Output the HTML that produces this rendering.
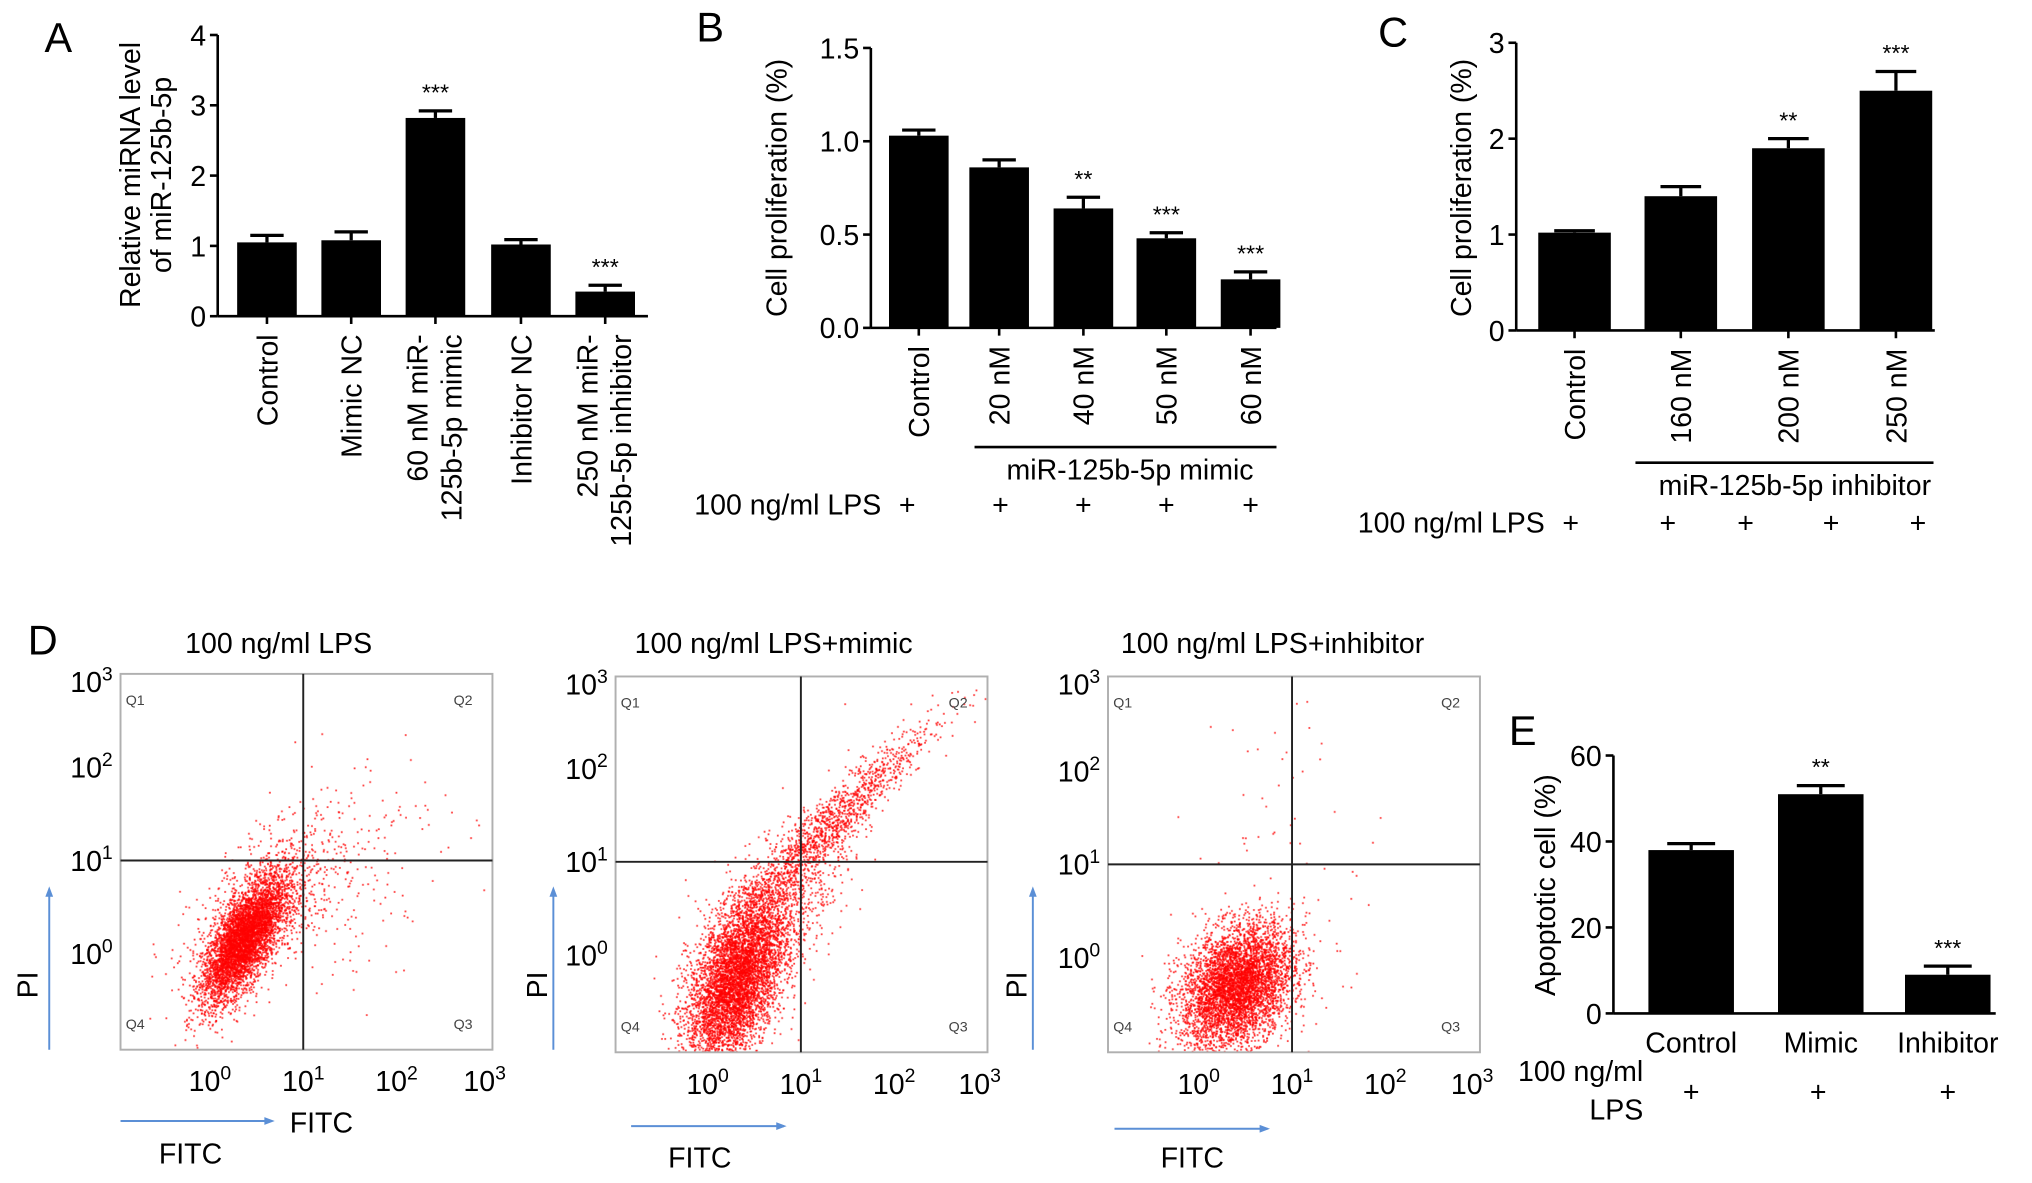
<!DOCTYPE html>
<html><head><meta charset="utf-8"><style>
html,body{margin:0;padding:0;background:#fff;overflow:hidden}
#wrap{position:relative;width:1568px;height:913px;transform:scale(1.29592);transform-origin:0 0}
svg{position:absolute;left:0;top:0;font-family:"Liberation Sans",Arial,sans-serif}
canvas{position:absolute}
</style></head><body>
<div id="wrap">
<canvas id="cv1"></canvas>
<canvas id="cv2"></canvas>
<canvas id="cv3"></canvas>
<svg id="svg" width="1568" height="913" viewBox="0 0 1568 913"></svg>
</div>
<script>
// ---- Panel A data ----
const aCats = [["Control"],["Mimic NC"],["60 nM miR-","125b-5p mimic"],["Inhibitor NC"],["250 nM miR-","125b-5p inhibitor"]];
const aVals = [1.05, 1.08, 2.82, 1.02, 0.35];
const aErrs = [0.10, 0.12, 0.10, 0.07, 0.09];
const aStars = ["", "", "***", "", "***"];
const aTicks = [0, 1, 2, 3, 4];
// ---- Panel B data ----
const bCats = [["Control"],["20 nM"],["40 nM"],["50 nM"],["60 nM"]];
const bVals = [1.03, 0.86, 0.64, 0.48, 0.26];
const bErrs = [0.03, 0.04, 0.06, 0.03, 0.04];
const bStars = ["", "", "**", "***", "***"];
const bTicks = [0.0, 0.5, 1.0, 1.5];
// ---- Panel C data ----
const cCats = [["Control"],["160 nM"],["200 nM"],["250 nM"]];
const cVals = [1.02, 1.40, 1.90, 2.50];
const cErrs = [0.02, 0.10, 0.10, 0.20];
const cStars = ["", "", "**", "***"];
const cTicks = [0, 1, 2, 3];
// ---- Panel E data ----
const eCats = [["Control"],["Mimic"],["Inhibitor"]];
const eVals = [38, 51, 9];
const eErrs = [1.5, 2, 2];
const eStars = ["", "**", "***"];
const eTicks = [0, 20, 40, 60];
// ---- Panel D scatter clusters (log10 units: [cx, cy, sx, sy, rho, n]) ----
const d1Clusters = [[0.35,0.15,0.22,0.33,0.7,4500],[0.6,0.5,0.4,0.45,0.6,900],[1.3,0.9,0.6,0.7,0.3,200]];
const d2Clusters = [[0.3,-0.3,0.26,0.45,0.5,5000],[0.7,0.5,0.4,0.5,0.7,1100],[1.3,1.4,0.55,0.55,0.95,1200]];
const d3Clusters = [[0.4,-0.3,0.3,0.33,0.3,4800],[1.0,1.2,0.5,1.0,0.0,60]];
const dTitles = ["100 ng/ml LPS","100 ng/ml LPS+mimic","100 ng/ml LPS+inhibitor"];

const NS="http://www.w3.org/2000/svg";
const svg=document.getElementById('svg');
function mk(tag,attrs,parent,text){const e=document.createElementNS(NS,tag);for(const k in attrs)e.setAttribute(k,attrs[k]);if(text!==undefined)e.textContent=text;(parent||svg).appendChild(e);return e;}
function txt(x,y,s,size,anchor,name,extra){const t=mk('text',Object.assign({x:x,y:y,'font-size':size,'text-anchor':anchor||'start',fill:'#000'},extra||{}),svg,s);return t;}

function barChart(o){
  const g=mk('g',{});
  
  
  const y=v=>o.y0-(v-o.min)/(o.max-o.min)*(o.y0-o.y1);
  mk('line',{x1:o.ax,y1:o.y1,x2:o.ax,y2:o.y0,stroke:'#000','stroke-width':2},g);
  mk('line',{x1:o.ax,y1:o.y0,x2:o.xend,y2:o.y0,stroke:'#000','stroke-width':2},g);
  o.ticks.forEach(t=>{
    mk('line',{x1:o.ax-6,y1:y(t),x2:o.ax,y2:y(t),stroke:'#000','stroke-width':2},g);
    const tl=mk('text',{x:o.ax-9,y:y(t)+8,'font-size':22,'text-anchor':'end'},g,o.tickFmt(t));
    
    
  });
  o.vals.forEach((v,i)=>{
    const cx=o.xs[i];
    const b=mk('rect',{x:cx-o.bw/2,y:y(v),width:o.bw,height:o.y0-y(v),fill:'#000'},g);
    
    
    const te=y(v+o.errs[i]);
    mk('line',{x1:cx,y1:y(v),x2:cx,y2:te,stroke:'#000','stroke-width':2.5},g);
    mk('line',{x1:cx-o.bw*0.28,y1:te,x2:cx+o.bw*0.28,y2:te,stroke:'#000','stroke-width':2.5},g);
    if(o.tickX) mk('line',{x1:cx,y1:o.y0,x2:cx,y2:o.y0+6,stroke:'#000','stroke-width':2},g);
    if(o.stars[i]){const s=mk('text',{x:cx,y:te-8,'font-size':18,'text-anchor':'middle'},g,o.stars[i]);
      
      }
    const lines=o.cats[i];
    lines.forEach((ln,j)=>{
      let bx, by;
      if(o.rot){bx=cx+8+(j-(lines.length-1))*26+ (lines.length>1?12:0); by=o.y0+14;
        const t=mk('text',{x:bx,y:by,'font-size':22,'text-anchor':'end',transform:`rotate(-90 ${bx} ${by})`},g,ln);
        
        
      } else {const t=mk('text',{x:cx,y:o.y0+30,'font-size':22,'text-anchor':'middle'},g,ln);
        
        }
    });
  });
}

// Panel A
txt(45,40,'A',32,'middle','panel-label-a');
barChart({name:'chart-a',ax:168,y0:244,y1:27,min:0,max:4,xend:500,xs:[206,271,336,402,467],bw:46,vals:aVals,errs:aErrs,stars:aStars,ticks:aTicks,cats:aCats,tickFmt:t=>String(t),rot:true,tickX:true});
txt(108,135,'Relative miRNA level',22,'middle','y-axis-title-a',{transform:'rotate(-90 108 135)'});
txt(132,135,'of miR-125b-5p',22,'middle','y-axis-title-a2',{transform:'rotate(-90 132 135)'});

// Panel B
txt(548,32,'B',32,'middle','panel-label-b');
barChart({name:'chart-b',ax:672,y0:253,y1:37,min:0,max:1.5,xend:985,xs:[709,771,836,900,965],bw:46,vals:bVals,errs:bErrs,stars:bStars,ticks:bTicks,cats:bCats,tickFmt:t=>t.toFixed(1),rot:true,tickX:true});
txt(607,145,'Cell proliferation (%)',22,'middle','y-axis-title-b',{transform:'rotate(-90 607 145)'});
mk('line',{x1:752,y1:345,x2:985,y2:345,stroke:'#000','stroke-width':2});
txt(872,370,'miR-125b-5p mimic',22,'middle','group-label-mimic');
txt(680,397,'100 ng/ml LPS',22,'end','lps-row-label-b');
[700,772,836,900,965].forEach(x=>txt(x,397,'+',22,'middle','lps-plus'));

// Panel C
txt(1075,36,'C',32,'middle','panel-label-c');
barChart({name:'chart-c',ax:1170,y0:255,y1:33,min:0,max:3,xend:1493,xs:[1215,1297,1380,1463],bw:56,vals:cVals,errs:cErrs,stars:cStars,ticks:cTicks,cats:cCats,tickFmt:t=>String(t),rot:true,tickX:true});
txt(1135,145,'Cell proliferation (%)',22,'middle','y-axis-title-c',{transform:'rotate(-90 1135 145)'});
mk('line',{x1:1262,y1:357,x2:1492,y2:357,stroke:'#000','stroke-width':2});
txt(1385,382,'miR-125b-5p inhibitor',22,'middle','group-label-inhibitor');
txt(1192,411,'100 ng/ml LPS',22,'end','lps-row-label-c');
[1212,1287,1347,1413,1480].forEach(x=>txt(x,411,'+',22,'middle','lps-plus'));

// Panel E
txt(1175,575,'E',32,'middle','panel-label-e');
barChart({name:'chart-e',ax:1245,y0:782,y1:583,min:0,max:60,xend:1540,xs:[1305,1405,1503],bw:66,vals:eVals,errs:eErrs,stars:eStars,ticks:eTicks,cats:eCats,tickFmt:t=>String(t),rot:false,tickX:false});
txt(1200,683,'Apoptotic cell (%)',22,'middle','y-axis-title-e',{transform:'rotate(-90 1200 683)'});
txt(1268,834,'100 ng/ml',22,'end','lps-row-label-e');
txt(1268,864,'LPS',22,'end','lps-row-label-e2');
[1305,1403,1503].forEach(x=>txt(x,850,'+',22,'middle','lps-plus'));

// Panel D
txt(33,505,'D',32,'middle','panel-label-d');
const plots=[
 {bx:93,by:520,bw:287,bh:290,cxh:234,cyh:664,title:215,clusters:d1Clusters,cv:'cv1',pi:20,arrowY:38,fx1:93,fx2:210,fy:865},
 {bx:475,by:522,bw:287,bh:290,cxh:618,cyh:665,title:597,clusters:d2Clusters,cv:'cv2',pi:413,arrowY:427,fx1:487,fx2:605,fy:869},
 {bx:855,by:522,bw:287,bh:290,cxh:997,cyh:667,title:982,clusters:d3Clusters,cv:'cv3',pi:783,arrowY:797,fx1:860,fx2:978,fy:871}
];
let seed=12345;
function rnd(){seed=(seed*1103515245+12345)%2147483648;return seed/2147483648;}
function gauss(){let u=rnd()||1e-9,v=rnd();return Math.sqrt(-2*Math.log(u))*Math.cos(2*Math.PI*v);}
plots.forEach((p,pi)=>{
  const step=72;
  const x0=p.cxh-step, y0=p.cyh+72;
  const X=l=>x0+l*step, Y=l=>y0-l*72;
  const cv=document.getElementById(p.cv);
  const S=2;
  cv.style.left=p.bx+'px';cv.style.top=p.by+'px';cv.style.width=p.bw+'px';cv.style.height=p.bh+'px';
  cv.width=p.bw*S;cv.height=p.bh*S;
  const ctx=cv.getContext('2d');ctx.scale(S,S);ctx.fillStyle='rgba(255,0,0,0.75)';
  p.clusters.forEach(c=>{
    const [cx,cy,sx,sy,rho,n]=c;
    for(let i=0;i<n;i++){
      const a=gauss(),b=gauss();
      const lx=cx+sx*a, ly=cy+sy*(rho*a+Math.sqrt(1-rho*rho)*b);
      const px=X(lx)-p.bx, py=Y(ly)-p.by;
      if(px<1||px>p.bw-1||py<1||py>p.bh-1)continue;
      ctx.fillRect(px,py,1.4,1.4);
    }
  });
  const g=mk('g',{});
  
  
  mk('rect',{x:p.bx,y:p.by,width:p.bw,height:p.bh,fill:'none',stroke:'#b0b0b0','stroke-width':1.5},g);
  mk('line',{x1:p.cxh,y1:p.by,x2:p.cxh,y2:p.by+p.bh,stroke:'#222','stroke-width':1.5},g);
  mk('line',{x1:p.bx,y1:p.cyh,x2:p.bx+p.bw,y2:p.cyh,stroke:'#222','stroke-width':1.5},g);
  [['Q1',p.bx+4,p.by+24],['Q2',p.bx+p.bw-30,p.by+24],['Q4',p.bx+4,p.by+p.bh-16],['Q3',p.bx+p.bw-30,p.by+p.bh-16]].forEach(q=>{
    const t=mk('text',{x:q[1],y:q[2],'font-size':11,fill:'#444'},g,q[0]);
    
    
  });
  for(let k=0;k<=3;k++){
    const ty=Math.max(Y(k),p.by+6);
    const t=mk('text',{x:p.bx-6,y:ty+8,'font-size':22,'text-anchor':'end'},g);
    
    
    t.appendChild(document.createTextNode('10'));
    mk('tspan',{dy:-9,'font-size':15},t,String(k));
    const tx=Math.min(X(k),p.bx+p.bw-6);
    const t2=mk('text',{x:tx,y:p.by+p.bh+32,'font-size':22,'text-anchor':'middle'},g);
    
    
    t2.appendChild(document.createTextNode('10'));
    mk('tspan',{dy:-9,'font-size':15},t2,String(k));
  }
  txt(p.title,504,dTitles[pi],22,'middle','flow-plot-title');
  txt(p.pi+9,760,'PI',22,'middle','y-axis-title-pi',{transform:`rotate(-90 ${p.pi+9} 760)`});
  mk('line',{x1:p.arrowY,y1:810,x2:p.arrowY,y2:688,stroke:'#5b8fd6','stroke-width':1.5},g);
  mk('path',{d:`M${p.arrowY-3},692 L${p.arrowY},684 L${p.arrowY+3},692 Z`,fill:'#5b8fd6'},g);
  mk('line',{x1:p.fx1,y1:p.fy,x2:p.fx2,y2:p.fy,stroke:'#5b8fd6','stroke-width':1.5},g);
  mk('path',{d:`M${p.fx2-6},${p.fy-3} L${p.fx2+2},${p.fy} L${p.fx2-6},${p.fy+3} Z`,fill:'#5b8fd6'},g);
});
txt(248,874,'FITC',22,'middle','x-axis-title-fitc');
txt(147,898,'FITC',22,'middle','x-axis-title-fitc');
txt(540,901,'FITC',22,'middle','x-axis-title-fitc');
txt(920,901,'FITC',22,'middle','x-axis-title-fitc');
</script>
</body></html>
